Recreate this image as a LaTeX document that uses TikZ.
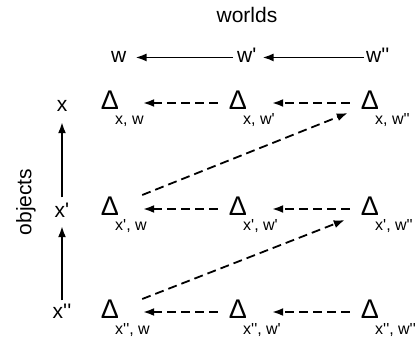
\documentclass[tikz,border=0pt]{standalone}
\usepackage{fontspec}
\setmainfont{Liberation Sans}[Ligatures=TeXOff]
\usetikzlibrary{arrows.meta,calc}
\begin{document}
\begin{tikzpicture}[x=1pt,y=-1pt,
 lbl/.style={font=\fontsize{21}{25}\selectfont, inner sep=0pt},
 dlt/.style={font=\fontsize{27}{31}\selectfont, inner sep=0pt},
 sub/.style={font=\fontsize{16}{19}\selectfont, inner sep=0pt, anchor=base west},
 arr/.style={line width=1.8pt, -{Latex[length=11pt,width=8pt]}},
 darr/.style={arr, dash pattern=on 9pt off 5pt},
]
\useasboundingbox (0,0) rectangle (415,339);
% titles
\node[lbl, anchor=base] (worlds) at (247,23) {worlds};
\node[lbl, rotate=90] (obj) at (26,202) {objects};
% worlds
\node[lbl, anchor=base west] (w) at (111,63) {w};
\node[lbl, anchor=base west] (w1) at (237,63) {w'};
\node[lbl, anchor=base west] (w2) at (366,63) {w''};
\draw[arr, shorten <=4pt, shorten >=9pt] (w1.west|-w.east) -- (w.east);
\draw[arr, shorten <=2pt, shorten >=6pt] (w2.west|-w.east) -- (w1.east|-w.east);
% objects
\node[lbl, anchor=base] (x) at (62,112) {x};
\node[lbl, anchor=base] (xp) at (62,218) {x'};
\node[lbl, anchor=base] (xpp) at (62,318) {x''};
\draw[arr] ([yshift=6pt]xp.north) -- ([yshift=-10pt]x.south);
\draw[arr] ([yshift=3pt]xpp.north) -- ([yshift=-8pt]xp.south);
% deltas
\node[dlt] (d11) at (110,100) {Δ};
\node[dlt] (d12) at (238,100) {Δ};
\node[dlt] (d13) at (370,100) {Δ};
\node[dlt] (d21) at (110,206) {Δ};
\node[dlt] (d22) at (238,206) {Δ};
\node[dlt] (d23) at (370,206) {Δ};
\node[dlt] (d31) at (110,309) {Δ};
\node[dlt] (d32) at (238,309) {Δ};
\node[dlt] (d33) at (370,309) {Δ};
% subscripts
\node[sub] (s11) at (115,125) {x, w};
\node[sub] (s12) at (243,125) {x, w'};
\node[sub] (s13) at (375,125) {x, w''};
\node[sub] (s21) at (115,231) {x', w};
\node[sub] (s22) at (243,231) {x', w'};
\node[sub] (s23) at (375,231) {x', w''};
\node[sub] (s31) at (115,334) {x'', w};
\node[sub] (s32) at (243,334) {x'', w'};
\node[sub] (s33) at (375,334) {x'', w''};
% dashed horizontal arrows
\foreach \r in {1,2,3}{
  \draw[darr] ([shift={(-11pt,-3pt)}]d\r2.west) -- ([shift={(24pt,-3pt)}]d\r1.east);
  \draw[darr] ([shift={(-11pt,-3pt)}]d\r3.west) -- ([shift={(25pt,-3pt)}]d\r2.east);
}
% diagonals
\draw[darr] ([shift={(23pt,11pt)}]d21.east) -- ([shift={(-13pt,-13pt)}]d13.west);
\draw[darr] ([shift={(23pt,10pt)}]d31.east) -- ([shift={(-16pt,-14pt)}]d23.west);
\end{tikzpicture}
\end{document}
